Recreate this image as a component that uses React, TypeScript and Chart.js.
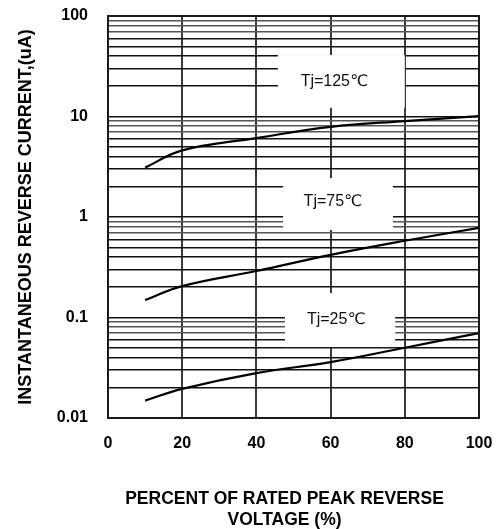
import React, { useEffect, useRef } from 'react';
import { Chart, registerables } from 'chart.js';

Chart.register(...registerables);

// ---- data ----
const percentVoltage = [10, 20, 40, 60, 80, 100];
const current125 = [3.1, 4.6, 6.1, 7.9, 9.0, 10.1];
const current75 = [0.149, 0.205, 0.29, 0.42, 0.58, 0.78];
const current25 = [0.0149, 0.0195, 0.028, 0.036, 0.05, 0.07];
const seriesLabels = ['Tj=125℃', 'Tj=75℃', 'Tj=25℃'];
const xTicks = [0, 20, 40, 60, 80, 100];
const yDecadeTicks = [0.01, 0.1, 1, 10, 100];
const yTickLabels = ['0.01', '0.1', '1', '10', '100'];
const yTitle = 'INSTANTANEOUS REVERSE CURRENT,(uA)';
const xTitleLines = ['PERCENT OF RATED PEAK REVERSE', 'VOLTAGE (%)'];

// label box placement (data units)
const labelBoxes = [
  { text: seriesLabels[0], x0: 45.8, x1: 80.0, yTop: 40.9, yBot: 12.2, tx: 61.0, ty: 22.5 },
  { text: seriesLabels[1], x0: 47.2, x1: 76.8, yTop: 2.44, yBot: 0.743, tx: 60.6, ty: 1.41 },
  { text: seriesLabels[2], x0: 47.7, x1: 77.4, yTop: 0.175, yBot: 0.0508, tx: 61.5, ty: 0.0944 },
];

const gridValues: number[] = [];
for (let i = 0; i < yDecadeTicks.length - 1; i++) {
  for (let m = 1; m <= 9; m++) gridValues.push(Number((yDecadeTicks[i] * m).toPrecision(6)));
}
gridValues.push(yDecadeTicks[yDecadeTicks.length - 1]);

const tickFont = { family: '"Liberation Sans", Arial, sans-serif', size: 16, weight: 'bold' as const };
const yTitleFont = { family: '"Liberation Sans", Arial, sans-serif', size: 18, weight: 'bold' as const };
const xTitleSize = 17.5;

const boxesPlugin = {
  id: 'boxes',
  beforeDatasetsDraw(chart: any) {
    const { ctx, scales } = chart;
    const xs = scales.x, ys = scales.y;
    ctx.save();
    for (const b of labelBoxes) {
      const l = xs.getPixelForValue(b.x0), r = xs.getPixelForValue(b.x1);
      const t = ys.getPixelForValue(b.yTop), btm = ys.getPixelForValue(b.yBot);
      ctx.fillStyle = '#ffffff';
      ctx.fillRect(l, t, r - l, btm - t);
      ctx.fillStyle = '#111111';
      ctx.font = '16px "Liberation Sans", "DejaVu Sans", "Noto Sans CJK SC", sans-serif';
      ctx.textAlign = 'center';
      ctx.textBaseline = 'middle';
      ctx.fillText(b.text, xs.getPixelForValue(b.tx), ys.getPixelForValue(b.ty));
    }
    ctx.restore();
  },
  afterDraw(chart: any) {
    const { ctx, chartArea } = chart;
    ctx.save();
    ctx.strokeStyle = '#1a1a1a';
    ctx.lineWidth = 2;
    ctx.strokeRect(chartArea.left, chartArea.top, chartArea.right - chartArea.left, chartArea.bottom - chartArea.top);
    ctx.fillStyle = '#000000';
    ctx.font = `bold ${xTitleSize}px "Liberation Sans", Arial, sans-serif`;
    ctx.textAlign = 'center';
    ctx.textBaseline = 'middle';
    const cx = (chartArea.left + chartArea.right) / 2 - 9;
    ctx.fillText(xTitleLines[0], cx, chartArea.bottom + 81.5);
    ctx.fillText(xTitleLines[1], cx, chartArea.bottom + 102);
    ctx.restore();
  },
};

export default function App() {
  const canvasRef = useRef<HTMLCanvasElement | null>(null);

  useEffect(() => {
    if (!canvasRef.current) return;
    const mk = (vals: number[]) => percentVoltage.map((x, i) => ({ x, y: vals[i] }));
    const ds = (label: string, vals: number[]) => ({
      label,
      data: mk(vals),
      borderColor: '#000000',
      borderWidth: 2.2,
      pointRadius: 0,
      tension: 0.4,
      fill: false,
    });
    const chart = new Chart(canvasRef.current, {
      type: 'line',
      data: {
        datasets: [ds(seriesLabels[0], current125), ds(seriesLabels[1], current75), ds(seriesLabels[2], current25)],
      },
      options: {
        animation: false,
        responsive: true,
        maintainAspectRatio: false,
        layout: { padding: { top: 16, right: 23, left: 0, bottom: 0 } },
        plugins: { legend: { display: false }, tooltip: { enabled: false } },
        scales: {
          x: {
            type: 'linear',
            min: 0,
            max: 100,
            afterBuildTicks: (s: any) => {
              s.ticks = xTicks.map((v) => ({ value: v }));
            },
            afterFit: (s: any) => {
              s.height = 111;
              s.paddingLeft = 0;
              s.paddingRight = 0;
            },
            ticks: { font: tickFont, color: '#000', padding: 16, callback: (v: any) => String(v) },
            grid: { drawTicks: false, color: '#3a3a3a', lineWidth: 2 },
            border: { display: false },
          },
          y: {
            type: 'logarithmic',
            min: 0.01,
            max: 100,
            afterBuildTicks: (s: any) => {
              s.ticks = gridValues.map((v) => ({ value: v }));
            },
            afterFit: (s: any) => {
              s.width = 108;
              s.paddingTop = 0;
              s.paddingBottom = 0;
            },
            ticks: {
              autoSkip: false,
              font: tickFont,
              color: '#000',
              padding: 20,
              callback: (v: any) => {
                const i = yDecadeTicks.findIndex((d) => Math.abs(d - Number(v)) / d < 1e-6);
                return i >= 0 ? yTickLabels[i] : '';
              },
            },
            grid: {
              drawTicks: false,
              lineWidth: 1.5,
              color: (c: any) => {
                const v = c.tick ? c.tick.value : 1;
                const m = Math.round(v / Math.pow(10, Math.floor(Math.log10(v) + 1e-9)));
                return m >= 7 ? '#555555' : '#111111';
              },
            },
            border: { display: false },
            title: { display: true, text: yTitle, font: yTitleFont, color: '#000', padding: { top: 15, bottom: 0 } },
          },
        },
      },
      plugins: [boxesPlugin],
    });
    return () => chart.destroy();
  }, []);

  return (
    <div style={{ position: 'fixed', left: 0, top: 0, width: 502, height: 529, background: '#fff' }}>
      <canvas ref={canvasRef} />
    </div>
  );
}
